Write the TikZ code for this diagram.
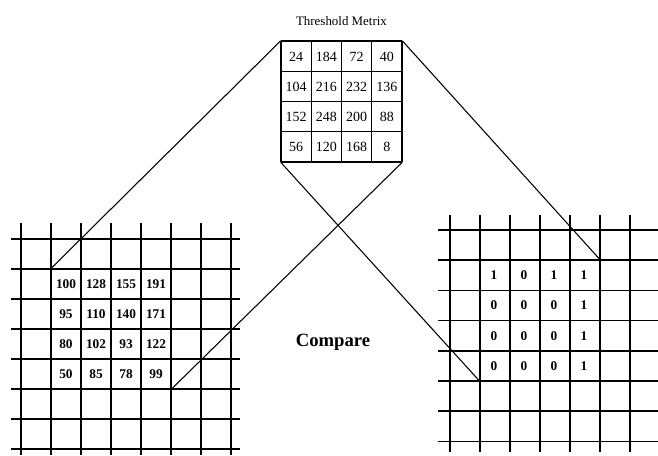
\documentclass[tikz,border=0pt]{standalone}
\usepackage{fontspec}
\setmainfont{Liberation Serif}
\usetikzlibrary{positioning}
\tikzset{
  gridline/.style={line width=1.2pt},
  thrline/.style={line width=0.9pt},
  link/.style={line width=0.8pt},
  cellnum/.style={font=\bfseries\fontsize{10}{12}\selectfont},
  thrnum/.style={font=\fontsize{10.5}{12}\selectfont},
  block/.style={inner sep=0pt,minimum width=90pt,minimum height=90pt}
}

\begin{document}
\begin{tikzpicture}[x=0.75pt,y=-0.75pt]
  \useasboundingbox (0,0) rectangle (658,455);
  \fill[white] (0,0) rectangle (658,455);

  \node[block,minimum width=90.75pt,minimum height=90.75pt] (T) at (341.5,101.5) {};
  \node[inner sep=0pt,above=11pt of T,font=\fontsize{9.7}{11}\selectfont] (title) {Threshold Metrix};
  \foreach \k in {0,...,4}{
    \draw[thrline] (281+30.25*\k,41) -- (281+30.25*\k,162);
    \draw[thrline] (281,41+30.25*\k) -- (402,41+30.25*\k);}
  \foreach \row [count=\j from 0] in {{24,184,72,40},{104,216,232,136},{152,248,200,88},{56,120,168,8}}
    \foreach \v [count=\i from 0] in \row
      \node[thrnum] (t\j\i) at (296.1+30.25*\i,56.6+30.25*\j) {\v};

  \node[block] (L) at (111,329) {};
  \foreach \k in {0,...,7}{
    \draw[gridline] (21+30*\k,223) -- (21+30*\k,455);
    \draw[gridline] (11,239+30*\k) -- (240,239+30*\k);}
  \foreach \row [count=\j from 0] in {{100,128,155,191},{95,110,140,171},{80,102,93,122},{50,85,78,99}}
    \foreach \v [count=\i from 0] in \row
      \node[cellnum] (l\j\i) at (66+30*\i,284+30*\j) {\v};

  \node[block,minimum height=90.6pt] (R) at (540,320.6) {};
  \foreach \k in {0,...,6}
    \draw[gridline] (450+30*\k,215) -- (450+30*\k,452);
  \foreach \k in {0,...,7}
    \draw[gridline] (438,230+30.2*\k) -- (658,230+30.2*\k);
  \foreach \row [count=\j from 0] in {{1,0,1,1},{0,0,0,1},{0,0,0,1},{0,0,0,1}}
    \foreach \v [count=\i from 0] in \row
      \node[cellnum] (r\j\i) at (494+30*\i,275.3+30.2*\j) {\v};

  \draw[link] (T.north west) -- (L.north west);
  \draw[link] (T.south east) -- (L.south east);
  \draw[link] (T.north east) -- (R.north east);
  \draw[link] (T.south west) -- (R.south west);

  \node[font=\bfseries\fontsize{14}{16}\selectfont] (cmp) at (333,342) {Compare};
\end{tikzpicture}
\end{document}
